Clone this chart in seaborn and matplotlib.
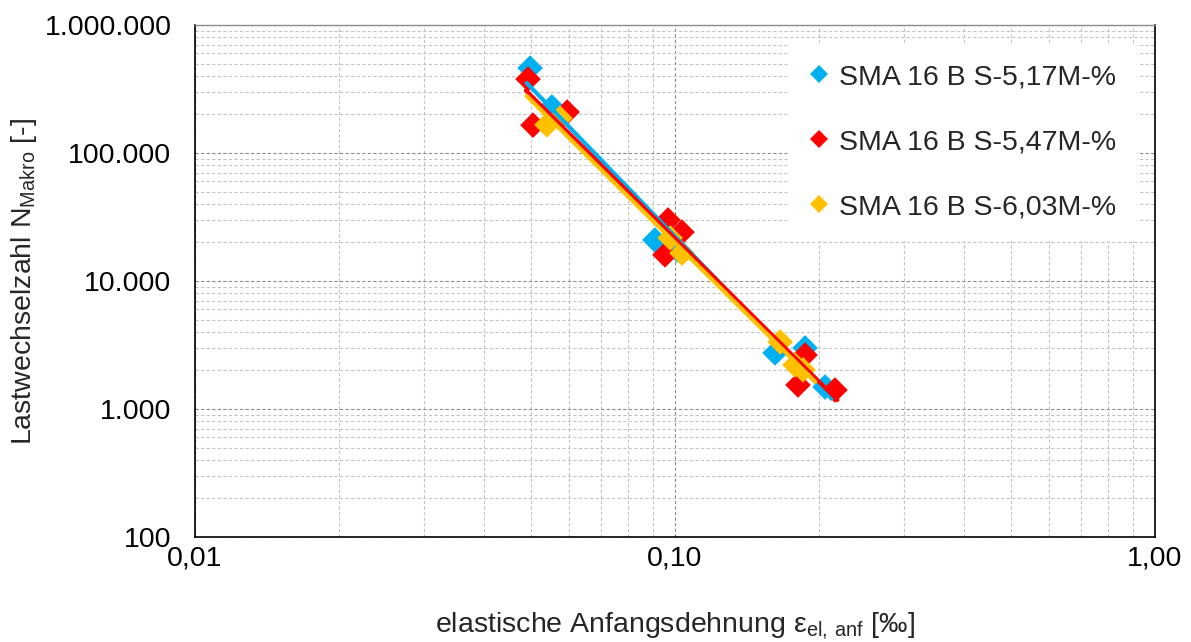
import numpy as np
import pandas as pd
import matplotlib
matplotlib.use("Agg")
import matplotlib.pyplot as plt
import seaborn as sns
from matplotlib.ticker import FixedLocator, LogLocator, FuncFormatter, NullFormatter

# ---------------- data ----------------
series = ["SMA 16 B S-5,17M-%", "SMA 16 B S-5,47M-%", "SMA 16 B S-6,03M-%"]
colors = ["#00B0F0", "#FF0000", "#FFC000"]

eps_517 = [0.0499, 0.0554, 0.0908, 0.1010, 0.1616, 0.1866, 0.2054]
n_517 = [461000, 229000, 20900, 17500, 2740, 3000, 1485]

eps_547 = [0.0494, 0.0596, 0.0506, 0.0967, 0.1034, 0.0953, 0.1866, 0.1804, 0.2154]
n_547 = [378000, 209000, 165000, 30000, 24100, 16000, 2640, 1540, 1407]

eps_603 = [0.0541, 0.0576, 0.0977, 0.1034, 0.1656, 0.1778, 0.1848]
n_603 = [166000, 187000, 21700, 16500, 3340, 2210, 2020]

# x-range covered by each power-law trend line
trend_range = [(0.0491, 0.212), (0.0489, 0.218), (0.0491, 0.196)]

x_ticks = [0.01, 0.1, 1.0]
y_ticks = [100, 1000, 10000, 100000, 1000000]

# ---------------- style ----------------
sns.set_style("white")
plt.rcParams["font.family"] = ["Liberation Sans", "DejaVu Sans"]
plt.rcParams["mathtext.default"] = "regular"
FS = 20.5

frames = []
for name, xs, ys in zip(series, [eps_517, eps_547, eps_603], [n_517, n_547, n_603]):
    frames.append(pd.DataFrame({"eps": xs, "N": ys, "Serie": name}))
df = pd.concat(frames, ignore_index=True)

fig = plt.figure(figsize=(11.91, 6.42), dpi=100)
ax = fig.add_axes([195 / 1191, 1 - 537 / 642, 960 / 1191, 512 / 642])

ax.set_xscale("log")
ax.set_yscale("log")
ax.set_xlim(0.01, 1.0)
ax.set_ylim(100, 1000000)

sns.scatterplot(data=df, x="eps", y="N", hue="Serie", hue_order=series,
                palette=colors, marker="D", s=170, linewidth=0, ax=ax,
                zorder=3, legend=False)

# power-law trend lines (fit in log-log space)
for name, xs, ys, c, (x0, x1) in zip(series, [eps_517, eps_547, eps_603],
                                     [n_517, n_547, n_603], colors, trend_range):
    k, d = np.polyfit(np.log10(xs), np.log10(ys), 1)
    xx = np.logspace(np.log10(x0), np.log10(x1), 50)
    yy = 10 ** (k * np.log10(xx) + d)
    sns.lineplot(x=xx, y=yy, color=c, linewidth=3, ax=ax, zorder=4)

# grid
ax.grid(True, which="major", color="#8c8c8c", linestyle=(0, (3, 2)), linewidth=0.8)
ax.grid(True, which="minor", color="#c4c4c4", linestyle=(0, (3, 2)), linewidth=0.8)
ax.set_axisbelow(True)

ax.xaxis.set_major_locator(FixedLocator(x_ticks))
ax.yaxis.set_major_locator(FixedLocator(y_ticks))
ax.xaxis.set_minor_locator(LogLocator(base=10, subs=np.arange(2, 10)))
ax.yaxis.set_minor_locator(LogLocator(base=10, subs=np.arange(2, 10)))
ax.xaxis.set_major_formatter(FuncFormatter(lambda v, p: f"{v:.2f}".replace(".", ",")))
ax.yaxis.set_major_formatter(FuncFormatter(lambda v, p: f"{int(round(v)):,}".replace(",", ".")))
ax.xaxis.set_minor_formatter(NullFormatter())
ax.yaxis.set_minor_formatter(NullFormatter())

ax.tick_params(which="major", direction="inout", length=10, width=1, color="black",
               labelsize=FS, labelcolor="black")
ax.tick_params(axis="y", which="major", pad=12)
ax.tick_params(axis="x", which="major", pad=1)
ax.tick_params(which="minor", length=0)

for side in ["left", "bottom", "right"]:
    ax.spines[side].set_color("black")
    ax.spines[side].set_linewidth(1.2)
ax.spines["top"].set_color("#8c8c8c")
ax.spines["top"].set_linewidth(1.0)

ax.set_xlabel(r"elastische Anfangsdehnung $\mathregular{ε_{el,\,anf}}$ [‰]",
              fontsize=FS, labelpad=28)
ax.set_ylabel(r"Lastwechselzahl $\mathregular{N_{Makro}}$ [-]", fontsize=FS, labelpad=4)

# legend
handles = [plt.Line2D([], [], marker="D", linestyle="none", color=c,
                      markersize=9, markeredgewidth=0) for c in colors]
leg = ax.legend(handles, series, loc="upper right", bbox_to_anchor=(0.995, 0.99),
                fontsize=FS, frameon=True, fancybox=False, framealpha=1,
                edgecolor="white", facecolor="white", labelspacing=1.37,
                handlelength=0.8, handletextpad=0.3, borderpad=0.7)
leg.set_zorder(10)

fig.savefig("out.png", dpi=100)
